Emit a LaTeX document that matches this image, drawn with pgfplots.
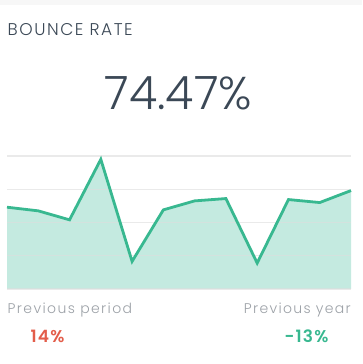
\documentclass[border=0pt]{standalone}
\usepackage{pgfplots}
\pgfplotsset{compat=1.18}
\usepackage{fontspec}
\setmainfont{Poppins}
\newfontfamily\pl{Poppins}[UprightFont={* Light}]
\newfontfamily\psb{Poppins}[UprightFont={* SemiBold}]
\definecolor{txt}{HTML}{3B4856}
\definecolor{sub}{HTML}{9CA1A7}
\definecolor{red}{HTML}{E35D4A}
\definecolor{grn}{HTML}{38B890}
\definecolor{fillc}{HTML}{C4EAE0}
\definecolor{gridc}{HTML}{DDDDDD}
\begin{document}
\begin{tikzpicture}[x=1pt,y=1pt]
\useasboundingbox (0,0) rectangle (362,364);
\fill[white] (0,0) rectangle (362,364);
\fill[black!3] (0,359) rectangle (362,364);
\node[anchor=base west,inner sep=0,font=\pl\fontsize{17}{18}\selectfont\addfontfeature{LetterSpace=9},text=txt] at (7.5,328) {BOUNCE RATE};
\node[anchor=base,inner sep=0,font=\pl\fontsize{46}{50}\selectfont,text=txt] at (178.5,254) {74.47\%};
\node[anchor=base west,inner sep=0,font=\pl\fontsize{14}{16}\selectfont\addfontfeature{LetterSpace=10},text=sub] at (7.5,50) {Previous period};
\node[anchor=base east,inner sep=0,font=\pl\fontsize{14}{16}\selectfont\addfontfeature{LetterSpace=9.5},text=sub] at (351,50) {Previous year};
\node[anchor=base,inner sep=0,font=\psb\fontsize{17}{18}\selectfont\addfontfeature{LetterSpace=7},text=red] at (47.5,21) {14\%};
\node[anchor=base,inner sep=0,font=\psb\fontsize{17}{18}\selectfont\addfontfeature{LetterSpace=7},text=grn] at (306.5,21) {-13\%};
\begin{axis}[
  at={(7pt,75pt)}, anchor=south west,
  scale only axis, width=344pt, height=133pt,
  xmin=0, xmax=11, ymin=0, ymax=4,
  axis lines=none,
  ytick={0,1,2,3,4}, xtick=\empty,
  ymajorgrids, grid style={gridc, line width=1.2pt},
  clip=false,
]
\addplot[draw=none, fill=fillc] coordinates {
(0,2.46) (1,2.35) (2,2.08) (3,3.90) (4,0.83) (5,2.38) (6,2.65) (7,2.72) (8,0.78) (9,2.69) (10,2.60) (11,2.96)
} \closedcycle;
\foreach \yy in {0,1,2,3,4} {\edef\tmp{\noexpand\draw[gridc, line width=1.2pt, opacity=0.6] (axis cs:0,\yy) -- (axis cs:11,\yy);}\tmp}
\addplot[grn, line width=2.8pt, line join=miter, mark=none] coordinates {
(0,2.46) (1,2.35) (2,2.08) (3,3.90) (4,0.83) (5,2.38) (6,2.65) (7,2.72) (8,0.78) (9,2.69) (10,2.60) (11,2.96)
};
\end{axis}
\end{tikzpicture}
\end{document}
